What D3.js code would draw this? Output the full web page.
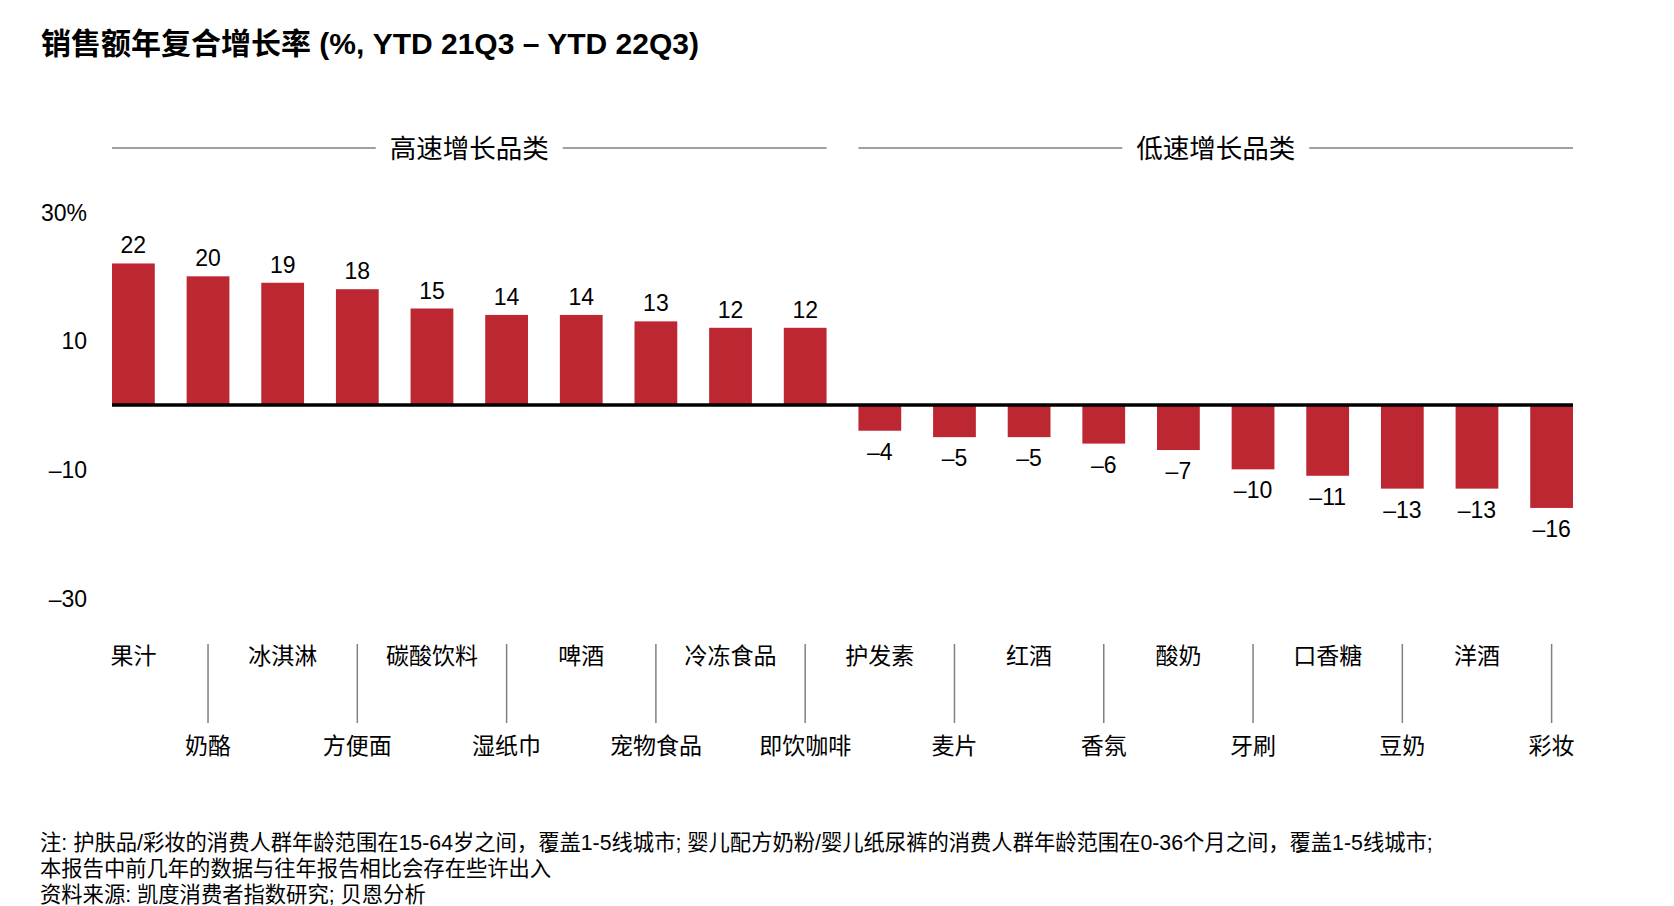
<!DOCTYPE html>
<html>
<head>
<meta charset="utf-8">
<script src="https://cdn.jsdelivr.net/npm/d3@7"></script>
<style>
  body { margin: 0; background: #fff; }
  svg text { font-family: "Liberation Sans", Arial, "Noto Sans CJK SC", sans-serif; fill: #000; }
</style>
</head>
<body>
<div id="chart"></div>
<script>
// data
const categories = ["果汁", "奶酪", "冰淇淋", "方便面", "碳酸饮料", "湿纸巾", "啤酒", "宠物食品", "冷冻食品", "即饮咖啡",
                    "护发素", "麦片", "红酒", "香氛", "酸奶", "牙刷", "口香糖", "豆奶", "洋酒", "彩妆"];
const values = [22, 20, 19, 18, 15, 14, 14, 13, 12, 12, -4, -5, -5, -6, -7, -10, -11, -13, -13, -16];
const groupNames = ["高速增长品类", "低速增长品类"];
const groupSizes = [10, 10];
const yTicks = [30, 10, -10, -30];
const title = "销售额年复合增长率 (%, YTD 21Q3 – YTD 22Q3)";
const notes = [
  "注: 护肤品/彩妆的消费人群年龄范围在15-64岁之间，覆盖1-5线城市; 婴儿配方奶粉/婴儿纸尿裤的消费人群年龄范围在0-36个月之间，覆盖1-5线城市;",
  "本报告中前几年的数据与往年报告相比会存在些许出入",
  "资料来源: 凯度消费者指数研究; 贝恩分析"
];

const svgWidth = 1674;
const svgHeight = 906;
const left = 112, right = 1573;
const zeroY = 405;
const red = "#BD2731";
const grey = "#808080";

const svg = d3.select("#chart").append("svg")
  .attr("width", svgWidth)
  .attr("height", svgHeight);

// scales
const x = d3.scaleBand()
  .domain(categories)
  .range([left, right])
  .paddingInner(0.427)
  .paddingOuter(0);

const y = d3.scaleLinear()
  .domain([-30, 30])
  .range([zeroY + 193, zeroY - 193]);

const fmt = v => v < 0 ? "\u2013" + Math.abs(v) : String(v);

// title
svg.append("text")
  .attr("x", 41)
  .attr("y", 54)
  .attr("font-size", 30)
  .attr("font-weight", "bold")
  .text(title);

// y axis labels (no line, just text)
const yAxis = d3.axisLeft(y)
  .tickValues(yTicks)
  .tickSize(0)
  .tickPadding(0)
  .tickFormat(d => d === 30 ? "30%" : fmt(d));

const yAxisG = svg.append("g")
  .attr("transform", "translate(87,0)")
  .call(yAxis);
yAxisG.select(".domain").remove();
yAxisG.selectAll("text")
  .attr("font-size", 23)
  .attr("font-family", null)
  .attr("dy", "0.35em");

// bars
svg.append("g").selectAll("rect")
  .data(values)
  .enter()
  .append("rect")
  .attr("x", (d, i) => x(categories[i]))
  .attr("width", x.bandwidth())
  .attr("y", d => d >= 0 ? y(d) : y(0))
  .attr("height", d => Math.abs(y(d) - y(0)))
  .attr("fill", red);

// value labels
svg.append("g").selectAll("text")
  .data(values)
  .enter()
  .append("text")
  .attr("x", (d, i) => x(categories[i]) + x.bandwidth() / 2)
  .attr("y", d => d >= 0 ? y(d) - 10 : y(d) + 29)
  .attr("text-anchor", "middle")
  .attr("font-size", 23)
  .text(fmt);

// zero line
svg.append("line")
  .attr("x1", left)
  .attr("x2", right)
  .attr("y1", y(0))
  .attr("y2", y(0))
  .attr("stroke", "#000")
  .attr("stroke-width", 3.5);

// group headers with rules either side
let start = 0;
groupNames.forEach((name, gi) => {
  const first = categories[start];
  const last = categories[start + groupSizes[gi] - 1];
  const gx0 = x(first);
  const gx1 = x(last) + x.bandwidth();
  const cx = (gx0 + gx1) / 2;
  const hy = 148;
  const t = svg.append("text")
    .attr("x", cx)
    .attr("y", hy)
    .attr("dy", "0.36em")
    .attr("text-anchor", "middle")
    .attr("font-size", 26.5)
    .text(name);
  const w = t.node().getComputedTextLength();
  const gap = 14;
  svg.append("line")
    .attr("x1", gx0).attr("x2", cx - w / 2 - gap)
    .attr("y1", hy).attr("y2", hy)
    .attr("stroke", grey).attr("stroke-width", 1.5);
  svg.append("line")
    .attr("x1", cx + w / 2 + gap).attr("x2", gx1)
    .attr("y1", hy).attr("y2", hy)
    .attr("stroke", grey).attr("stroke-width", 1.5);
  start += groupSizes[gi];
});

// category labels, staggered on two rows
const catG = svg.append("g");
catG.selectAll("text")
  .data(categories)
  .enter()
  .append("text")
  .attr("x", d => x(d) + x.bandwidth() / 2)
  .attr("y", (d, i) => i % 2 === 0 ? 656 : 746)
  .attr("dy", "0.36em")
  .attr("text-anchor", "middle")
  .attr("font-size", 23)
  .text(d => d);

catG.selectAll("line")
  .data(categories.filter((d, i) => i % 2 === 1))
  .enter()
  .append("line")
  .attr("x1", d => x(d) + x.bandwidth() / 2)
  .attr("x2", d => x(d) + x.bandwidth() / 2)
  .attr("y1", 644)
  .attr("y2", 723)
  .attr("stroke", grey)
  .attr("stroke-width", 1.5);

// footnotes
svg.append("g").selectAll("text")
  .data(notes)
  .enter()
  .append("text")
  .attr("x", 40)
  .attr("y", (d, i) => 850 + i * 26)
  .attr("font-size", 21.3)
  .text(d => d);
</script>
</body>
</html>
